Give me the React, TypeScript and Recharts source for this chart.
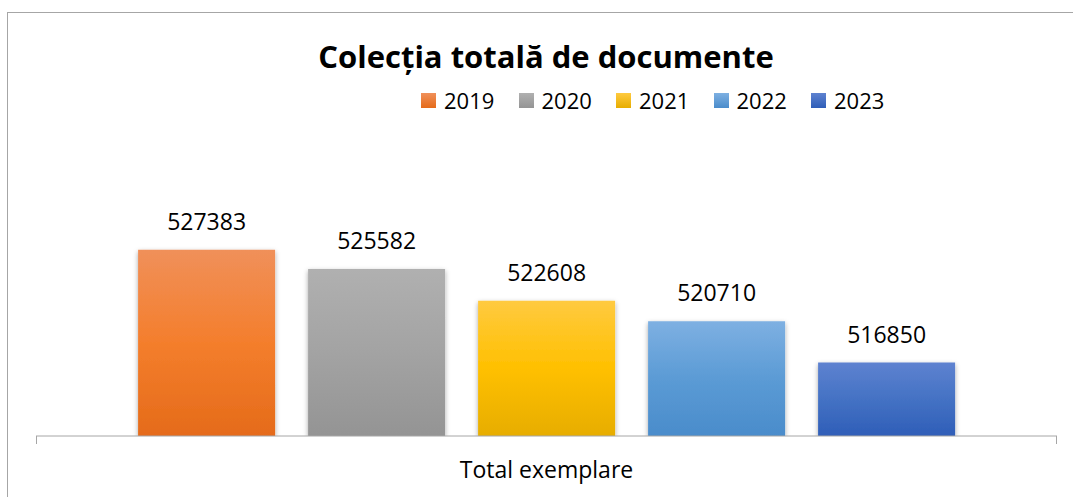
import { BarChart, Bar, XAxis, YAxis, LabelList } from 'recharts'

const CATEGORY = 'Total exemplare'
const YEARS = ['2019', '2020', '2021', '2022', '2023']
const VALUES = [527383, 525582, 522608, 520710, 516850]

// top, middle, bottom of each bar gradient
const GRADIENTS = [
  ['#f0905a', '#f47e2c', '#e56b1a'],
  ['#b0b0b0', '#a3a3a3', '#949494'],
  ['#ffca40', '#ffc000', '#e7ad00'],
  ['#7eb0e2', '#5b9bd5', '#4a8ccb'],
  ['#5e82d0', '#4472c4', '#2f5eb8'],
]

const data = [
  YEARS.reduce((row: Record<string, string | number>, y, i) => {
    row[y] = VALUES[i]
    return row
  }, { name: CATEGORY }),
]

const font = '"Open Sans", "Noto Sans", sans-serif'

const App = () => {
  return (
    <div style={{ position: 'absolute', left: 0, top: 0, width: 1073, height: 497, overflow: 'hidden', background: '#fff', fontFamily: font }}>
      <div style={{ position: 'absolute', left: 7, top: 12, width: 1100, height: 600, border: '1px solid #a6a6a6' }} />
      <div style={{ position: 'absolute', left: 0, top: 35, width: 1092, textAlign: 'center', fontWeight: 700, fontSize: 31, color: '#000' }}>
        Colecția totală de documente
      </div>
      <div style={{ position: 'absolute', left: 421, top: 85, display: 'flex', fontSize: 22, color: '#000' }}>
        {YEARS.map((y, i) => (
          <div key={y} style={{ display: 'flex', alignItems: 'center', width: 97.5 }}>
            <span style={{ display: 'inline-block', width: 15, height: 15, marginRight: 8, background: `linear-gradient(${GRADIENTS[i][0]}, ${GRADIENTS[i][2]})` }} />
            <span>{y}</span>
          </div>
        ))}
      </div>
      <div style={{ position: 'absolute', left: 0, top: 0 }}>
        <BarChart
          width={1073}
          height={497}
          data={data}
          margin={{ top: 168, right: 16, bottom: 21, left: 36 }}
          barCategoryGap="10%"
          barGap={33}
        >
          <defs>
            {GRADIENTS.map((g, i) => (
              <linearGradient key={i} id={`grad${i}`} x1="0" y1="0" x2="0" y2="1">
                <stop offset="0%" stopColor={g[0]} />
                <stop offset="50%" stopColor={g[1]} />
                <stop offset="100%" stopColor={g[2]} />
              </linearGradient>
            ))}
            <filter id="barShadow" x="-10%" y="-10%" width="120%" height="130%">
              <feDropShadow dx="0" dy="2" stdDeviation="2.5" floodColor="#000" floodOpacity="0.35" />
            </filter>
          </defs>
          <XAxis
            dataKey="name"
            height={40}
            axisLine={{ stroke: '#a6a6a6', strokeWidth: 1 }}
            tickLine={false}
            tickSize={0}
            tickMargin={26}
            tick={{ fill: '#000', fontSize: 23, fontFamily: font }}
          />
          <YAxis hide domain={[510000, 535000]} allowDataOverflow />
          {YEARS.map((y, i) => (
            <Bar key={y} dataKey={y} fill={`url(#grad${i})`} filter="url(#barShadow)" isAnimationActive={false}>
              <LabelList dataKey={y} position="top" offset={20} fill="#000" fontSize={23} fontFamily={font} />
            </Bar>
          ))}
        </BarChart>
      </div>
      <div style={{ position: 'absolute', left: 36, top: 436, width: 1, height: 8, background: '#a6a6a6' }} />
      <div style={{ position: 'absolute', left: 1056, top: 436, width: 1, height: 8, background: '#a6a6a6' }} />
    </div>
  )
}

export default App
